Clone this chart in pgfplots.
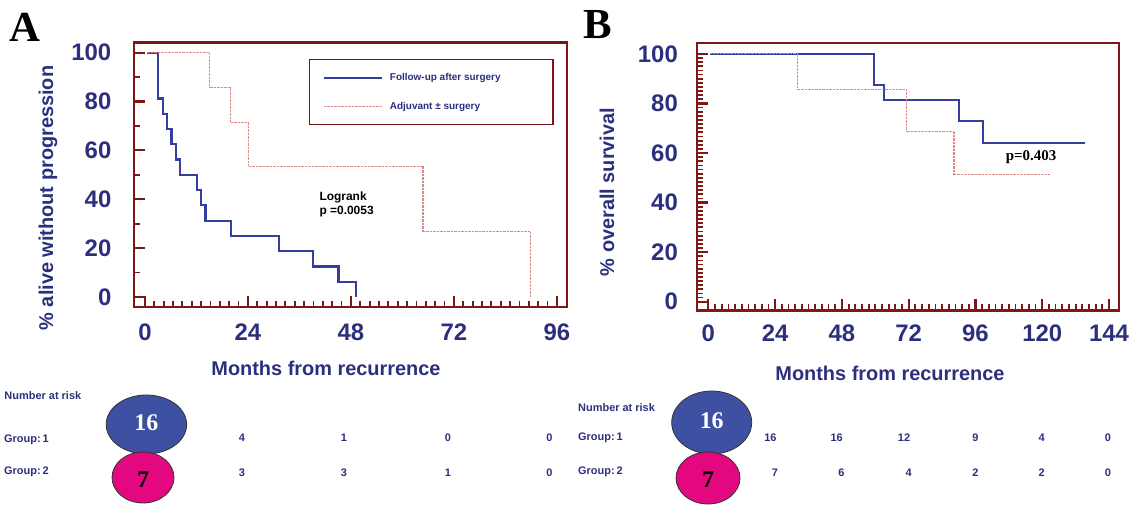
\documentclass[border=0pt]{standalone}
\usepackage{fontspec}
\setmainfont{Liberation Serif}
\setsansfont{Liberation Sans}
\usepackage{pgfplots}
\pgfplotsset{compat=1.18}
\definecolor{navy}{RGB}{44,47,125}
\definecolor{axred}{RGB}{128,22,22}
\definecolor{kmblue}{RGB}{52,62,160}
\definecolor{kmred}{RGB}{222,135,135}
\definecolor{ellblue}{RGB}{62,80,162}
\definecolor{ellpink}{RGB}{228,8,128}
\pgfplotsset{kmaxis/.style={
  scale only axis, xtick pos=bottom, ytick pos=left, tick align=inside,
  axis line style={draw=axred, line width=2.2bp},
  major tick style={draw=axred, line width=2.2bp},
  minor tick style={draw=axred, line width=1.8bp},
  major tick length=11bp, minor tick length=6bp,
  /pgf/number format/assume math mode=true,
  ticklabel style={font=\fontsize{24}{24}\selectfont\sffamily\bfseries, text=navy, inner sep=0pt},
}}
\newcommand{\lab}{\fontsize{20}{20}\selectfont\sffamily\bfseries\color{navy}}
\newcommand{\rsk}{\fontsize{11}{11}\selectfont\sffamily\bfseries\color{navy}}
\begin{document}
\begin{tikzpicture}
\useasboundingbox (0,0) rectangle (1129bp,505bp);
% ---------------- Panel A ----------------
\begin{axis}[kmaxis, at={(134bp,198bp)}, anchor=south west,
  width=432.8bp, height=264.4bp,
  xmin=-2.54, xmax=98.3, ymin=-4.1, ymax=104.1,
  xtick={0,24,48,72,96}, ytick={0,20,40,60,80,100},
  minor x tick num=10, minor y tick num=1,
  xticklabel style={anchor=north, yshift=-16.5bp},
  yticklabel style={anchor=east, xshift=-22.5bp},
  legend style={at={(0.4043,0.9396)}, anchor=north west, draw=axred, line width=1.5bp, fill=white,
    font=\fontsize{10}{12}\selectfont\sffamily\bfseries, text=navy,
    inner xsep=13bp, inner ysep=12bp, row sep=16bp, column sep=5bp},
  legend cell align=left,
  legend image code/.code={\draw[#1] (0bp,0bp) -- (58bp,0bp);},
]
\addplot[kmblue, line width=2.2bp, const plot] coordinates {
 (0.4,100) (3.1,81.25) (4.2,75) (5.2,68.75) (6.2,62.5) (7.2,56.25) (8.1,50)
 (12.1,43.75) (13.1,37.5) (14.1,31.25) (20.0,25) (31.2,18.75) (39.1,12.5)
 (45.1,6.25) (49.1,0)};
\addlegendentry{\makebox[148bp][l]{Follow-up after surgery}}
\addplot[kmred, line width=1.1bp, dash pattern=on 0.8bp off 0.6bp, const plot] coordinates {
 (0.4,100) (15.0,85.71) (20.0,71.43) (24.1,53.57) (64.8,26.79) (89.8,0)};
\addlegendentry{\makebox[148bp][l]{Adjuvant ± surgery}}
\end{axis}
% ---------------- Panel B ----------------
\begin{axis}[kmaxis, at={(696.7bp,194.5bp)}, anchor=south west,
  width=422.3bp, height=267.5bp,
  xmin=-4.2, xmax=147.6, ymin=-3.55, ymax=104.4,
  xtick={0,24,48,72,96,120,144}, ytick={0,20,40,60,80,100},
  minor x tick num=9, minor y tick num=11,
  xticklabel style={anchor=north, yshift=-14bp},
  yticklabel style={anchor=east, xshift=-18.7bp},
]
\addplot[kmblue, line width=2.2bp, const plot] coordinates {
 (0.6,100) (59.6,87.5) (63.0,81.25) (90.2,73.0) (98.8,63.9) (135.5,63.9)};
\addplot[kmred, line width=1.1bp, dash pattern=on 0.8bp off 0.6bp, const plot] coordinates {
 (0.6,100) (31.9,85.71) (71.1,68.57) (88.3,51.43) (122.6,51.43)};
\end{axis}
% ---------------- Labels ----------------
\node[font=\fontsize{43}{43}\selectfont\rmfamily\bfseries] at (24.5bp,478bp) {A};
\node[font=\fontsize{43}{43}\selectfont\rmfamily\bfseries] at (598bp,480bp) {B};
\node[rotate=90] at (48bp,307bp) {\lab \% alive without progression};
\node[rotate=90] at (607bp,313bp) {\lab \% overall survival};
\node at (326bp,137bp) {\lab Months from recurrence};
\node at (890bp,132bp) {\lab Months from recurrence};
\node[anchor=base west, align=left, font=\fontsize{12}{14.7}\selectfont\sffamily\bfseries] at (316bp,290bp) {Logrank\\p =0.0053};
\node[font=\fontsize{15}{15}\selectfont\rmfamily\bfseries] at (1031bp,348bp) {p=0.403};
% ---------------- Number at risk A ----------------
\node[anchor=west, inner sep=0pt] at (4.3bp,109bp) {\rsk Number at risk};
\node[anchor=west, inner sep=0pt] at (4bp,65bp) {\rsk Group:\,1};
\node[anchor=west, inner sep=0pt] at (4bp,33bp) {\rsk Group:\,2};
\draw[fill=ellblue, draw=black!80, line width=0.8bp] (146.4bp,80.5bp) ellipse [x radius=40.25bp, y radius=29.5bp];
\node[text=white, font=\fontsize{24}{24}\selectfont\rmfamily\bfseries] at (146.4bp,82bp) {16};
\draw[fill=ellpink, draw=black!80, line width=0.8bp] (143bp,27.5bp) ellipse [x radius=31bp, y radius=25.5bp];
\node[text=black, font=\fontsize{24}{24}\selectfont\rmfamily\bfseries] at (143bp,25bp) {7};
\foreach \xx/\v in {242/4, 344/1, 448/0, 549.4/0} \node at (\xx bp,67bp) {\rsk \v};
\foreach \xx/\v in {242/3, 344/3, 448/1, 549.4/0} \node at (\xx bp,32bp) {\rsk \v};
% ---------------- Number at risk B ----------------
\node[anchor=west, inner sep=0pt] at (578bp,97bp) {\rsk Number at risk};
\node[anchor=west, inner sep=0pt] at (578bp,67bp) {\rsk Group:\,1};
\node[anchor=west, inner sep=0pt] at (578bp,33bp) {\rsk Group:\,2};
\draw[fill=ellblue, draw=black!80, line width=0.8bp] (711.7bp,82.5bp) ellipse [x radius=40bp, y radius=31.5bp];
\node[text=white, font=\fontsize{24}{24}\selectfont\rmfamily\bfseries] at (711.7bp,84bp) {16};
\draw[fill=ellpink, draw=black!80, line width=0.8bp] (708bp,27bp) ellipse [x radius=32bp, y radius=26bp];
\node[text=black, font=\fontsize{24}{24}\selectfont\rmfamily\bfseries] at (708bp,25bp) {7};
\foreach \xx/\v in {770.4/16, 836.7/16, 904/12, 975.3/9, 1041.6/4, 1108/0} \node at (\xx bp,67bp) {\rsk \v};
\foreach \xx/\v in {775/7, 841.3/6, 908.7/4, 975.3/2, 1041.6/2, 1108/0} \node at (\xx bp,32bp) {\rsk \v};
\end{tikzpicture}
\end{document}
